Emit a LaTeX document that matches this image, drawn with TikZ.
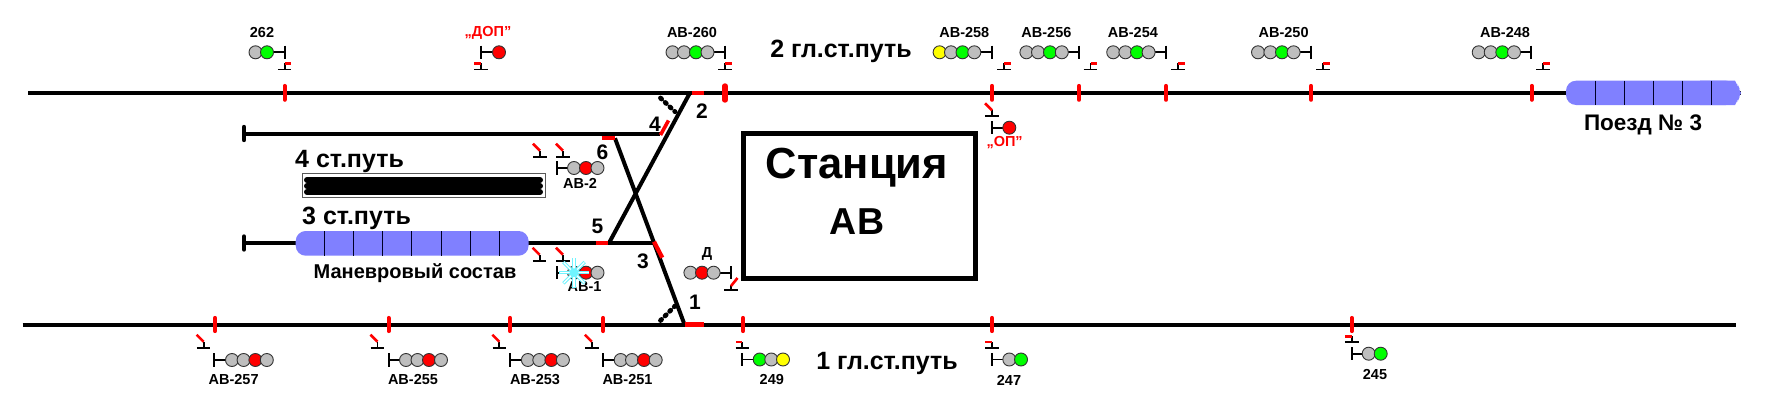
\documentclass[tikz,border=0pt]{standalone}
\usepackage{fontspec}
\setmainfont{Liberation Sans}
\newcommand{\fsz}[1]{\fontsize{#1}{#1}\selectfont\bfseries}
\definecolor{lampgray}{HTML}{BEBEBE}
\definecolor{lampgreen}{HTML}{00FF00}
\definecolor{lampred}{HTML}{FF0000}
\definecolor{lampyellow}{HTML}{FFFF00}
\definecolor{trainblue}{HTML}{8080FF}
\definecolor{flash}{HTML}{70F4FF}
\tikzset{
 track/.style={line width=4pt,black},
 redtick/.style={line width=4.2pt,red,line cap=round},
 lamp/.style={circle,draw=black!80,line width=0.9pt,minimum size=13pt,inner sep=0pt},
 post/.style={line width=1.9pt,black},
 tbar/.style={line width=1.9pt,black},
 trig/.style={line width=2.6pt,red},
 small/.style={font=\fsz{14.5}},
 big/.style={font=\fsz{25}},
 num/.style={font=\fsz{21}},
 train/.style={fill=trainblue,draw=none},
 divider/.style={line width=0.9pt,black!85!blue},
 blobs/.style={line width=4.8pt,line cap=round,dash pattern=on 1.5pt off 5pt},
}
\newcommand{\postline}[3]{\draw[post] (#1,#2-6.7) -- (#1,#2+6.7); \draw[post] (#1,#2) -- (#3,#2);}
\newcommand{\lampat}[4]{\node[lamp,fill=lamp#4] (#1) at (#2,#3) {};}
\newcommand{\tflag}[3]{\draw[tbar] (#1-6.8,#2) -- (#1+6.8,#2); \draw[tbar] (#1,#2) -- (#1,#2-6);
 \draw[trig] (#1,#2-6) -- (#1#36.8,#2-6);}
\newcommand{\tdiag}[2]{\draw[tbar] (#1-6.8,#2) -- (#1+6.8,#2); \draw[tbar] (#1,#2) -- (#1,#2-6);
 \draw[trig] (#1,#2-6) -- (#1-7,#2-13);}
\begin{document}
\begin{tikzpicture}[x=1pt,y=-1pt]
\useasboundingbox (0,0) rectangle (1768,412);
% tracks
\coordinate (t2a) at (28,92.7); \coordinate (t2b) at (1741,92.7);
\coordinate (t1a) at (22.5,324.5); \coordinate (t1b) at (1736,324.5);
\coordinate (t4a) at (244,133.5); \coordinate (t4b) at (660,133.5);
\coordinate (t3a) at (244,243); \coordinate (t3b) at (654,243);
\coordinate (swa) at (690,92.7); \coordinate (swb) at (609,243);
\coordinate (swc) at (615,138.3); \coordinate (swd) at (684.5,324.5);
\draw[track] (t2a) -- (t2b);
\draw[track] (t1a) -- (t1b);
\draw[track] (t4a) -- (t4b);
\draw[track] (t3a) -- (t3b);
\draw[track] (swa) -- (swb);
\draw[track] (swc) -- (swd);
\draw[line width=4.4pt,line cap=round] (t4a)+(0,-6.5) -- +(0,6.5);
\draw[line width=4.4pt,line cap=round] (t3a)+(0,-6.5) -- +(0,6.5);
% red switch sections
\draw[line width=4.2pt,red] (691.5,92.7) -- (703.6,92.7);
\draw[line width=4.2pt,red] (684.5,324.5) -- (703.6,324.5);
\draw[line width=4.2pt,red] (596,243) -- (608,243);
\draw[line width=4.2pt,red] (601.7,138.3) -- (615,138.3);
\draw[line width=3.6pt,red] (668.5,120.5) -- (660.5,135);
\draw[line width=4.2pt,red] (654,241.7) -- (662.3,257.7);
% dotted switch marks
\draw[blobs] (660.5,98) -- (675,111.7);
\draw[blobs] (660.5,320.5) -- (675,306);
% ticks
\foreach \x in {284.6,992,1079,1166,1311,1531.7} \draw[redtick] (\x,86) -- (\x,99.7);
\draw[line width=5.4pt,red,line cap=round] (725,86) -- (725,100);
\foreach \x in {215,388.6,510,603.2,743,992,1351.7} \draw[redtick] (\x,318) -- (\x,331);
% station
\node[draw,line width=5pt,minimum width=232pt,minimum height=145pt,inner sep=0pt] (station) at (859,205.5) {};
\node[font=\fsz{43.5}] (st1) at (857,168) {Станция};
\node[font=\fsz{37.5}] (st2) at (857,222) {АВ};
% track names
\node[big] (n2) at (841,51) {2 гл.ст.путь};
\node[big] (n1) at (887,363) {1 гл.ст.путь};
\node[big,anchor=west,inner sep=0pt] (n4) at (295,161) {4 ст.путь};
\node[big,anchor=west,inner sep=0pt] (n3) at (302,218) {3 ст.путь};
% occupied track 4
\node[draw=black!65,line width=1pt,minimum width=243pt,minimum height=24pt,inner sep=0pt] (occ) at (423.5,185) {};
\foreach \y in {180,186,192} \draw[line width=6pt,line cap=round] (307,\y) -- (540,\y);
% train on track 3
\draw[train,rounded corners=10pt] (295.7,231) rectangle (528.6,255.7);
\foreach \x in {324.3,353.6,382.5,411.8,441,470,499.3} \draw[divider] (\x,231) -- (\x,255.7);
\node[font=\fsz{20}] (man) at (415,273.5) {Маневровый состав};
% train 3
\draw[train,rounded corners=10pt] (1566,80.7) -- (1736,80.7) -- (1741.5,93) -- (1736,105) -- (1566,105) -- cycle;
\fill[trainblue] (1700,80.7) -- (1735,80.7) -- (1741,93) -- (1735,105) -- (1700,105) -- cycle;
\foreach \x in {1595,1624,1653,1682,1711} \draw[divider] (\x,80.7) -- (\x,105);
\node[font=\fsz{22.5}] (poezd) at (1643,124.8) {Поезд № 3};
% numbers
\node[num] (a1) at (695,302) {1};
\node[num] (a2) at (702,111) {2};
\node[num] (a3) at (643,261.7) {3};
\node[num] (a4) at (655,124) {4};
\node[num] (a5) at (597.5,226.7) {5};
\node[num] (a6) at (602.5,152) {6};
% top signals
\postline{284.6}{52.3}{272}
\lampat{s262a}{255.5}{52.3}{gray}\lampat{s262b}{267}{52.3}{green}
\tflag{284.6}{69.5}{+}
\node[small] (l262) at (262,32.5) {262};
\postline{481}{52.3}{494}
\lampat{dop}{499}{52.3}{red}
\tflag{481}{69.5}{-}
\node[small,text=red] (ldop) at (488,32.5) {,,ДОП"};
\postline{725}{52.3}{707}
\lampat{a}{672.5}{52.3}{gray}\lampat{b}{684}{52.3}{gray}\lampat{c}{696}{52.3}{green}\lampat{d}{707.5}{52.3}{gray}
\tflag{725}{69.5}{+}
\node[small] (l260) at (692,32.5) {АВ-260};
\postline{992}{52.3}{974}
\lampat{a}{939.6}{52.3}{yellow}\lampat{b}{951}{52.3}{gray}\lampat{c}{962.5}{52.3}{green}\lampat{d}{974.3}{52.3}{gray}
\tflag{1004}{69.5}{+}
\node[small] (l258) at (964.3,32.5) {АВ-258};
\postline{1079}{52.3}{1061}
\lampat{a}{1026.4}{52.3}{gray}\lampat{b}{1038}{52.3}{gray}\lampat{c}{1050}{52.3}{green}\lampat{d}{1061.8}{52.3}{gray}
\tflag{1090.5}{69.5}{+}
\node[small] (l256) at (1046.4,32.5) {АВ-256};
\postline{1166}{52.3}{1148}
\lampat{a}{1113.2}{52.3}{gray}\lampat{b}{1125.4}{52.3}{gray}\lampat{c}{1137}{52.3}{green}\lampat{d}{1148.6}{52.3}{gray}
\tflag{1178}{69.5}{+}
\node[small] (l254) at (1132.9,32.5) {АВ-254};
\postline{1311}{52.3}{1293}
\lampat{a}{1258}{52.3}{gray}\lampat{b}{1270.4}{52.3}{gray}\lampat{c}{1282}{52.3}{green}\lampat{d}{1293.6}{52.3}{gray}
\tflag{1323}{69.5}{+}
\node[small] (l250) at (1283.6,32.5) {АВ-250};
\postline{1531}{52.3}{1514}
\lampat{a}{1478.7}{52.3}{gray}\lampat{b}{1490.7}{52.3}{gray}\lampat{c}{1502.3}{52.3}{green}\lampat{d}{1514}{52.3}{gray}
\tflag{1543}{69.5}{+}
\node[small] (l248) at (1505,32.5) {АВ-248};
% OP
\tdiag{992}{116.3}
\postline{992}{127.7}{1004}
\lampat{op}{1009.3}{127.7}{red}
\node[small,text=red] (lop) at (1004.6,142.7) {,,ОП"};
% AB-2
\tdiag{540}{156.7}\tdiag{563}{156.7}
\postline{557}{168}{574}
\lampat{a}{574}{168}{gray}\lampat{b}{586}{168}{red}\lampat{c}{597.5}{168}{gray}
\node[small] (lab2) at (580,183) {АВ-2};
% AB-1
\tdiag{539.6}{260.7}\tdiag{563}{260.7}
\postline{557}{272.7}{574}
\lampat{a}{574}{272.7}{gray}\lampat{b}{586}{272.7}{red}\lampat{c}{597.5}{272.7}{gray}
\node[small] (lab1) at (584.6,287) {АВ-1};
\foreach \a in {0,45,90,135} {
 \draw[line width=3.4pt,flash] (574,272.7)+(\a:15) -- +(\a+180:15);
}
\foreach \a in {0,45,90,135} {
 \draw[line width=1.3pt,white] (574,272.7)+(\a:14.5) -- +(\a+180:14.5);
}
\fill[flash] (574,272.7) circle (4.5);
% D
\postline{731.4}{272.7}{713}
\lampat{a}{690.4}{272.7}{gray}\lampat{b}{702}{272.7}{red}\lampat{c}{713.6}{272.7}{gray}
\draw[tbar] (724,290) -- (737.6,290); \draw[tbar] (731,290) -- (731,285);
\draw[trig] (731,286) -- (737.5,278);
\node[small] (ld) at (707,254) {Д};
% bottom signals
\tdiag{203.6}{347.7}
\postline{214.3}{360}{232}
\lampat{a}{232}{360}{gray}\lampat{b}{243.6}{360}{gray}\lampat{c}{255.4}{360}{red}\lampat{d}{266.8}{360}{gray}
\node[small] (l257) at (233.6,380) {АВ-257};
\tdiag{377.5}{347.7}
\postline{388.6}{360}{406}
\lampat{a}{406}{360}{gray}\lampat{b}{417.5}{360}{gray}\lampat{c}{429}{360}{red}\lampat{d}{441}{360}{gray}
\node[small] (l255) at (413,380) {АВ-255};
\tdiag{499.3}{347.7}
\postline{510}{360}{528}
\lampat{a}{527.9}{360}{gray}\lampat{b}{539.3}{360}{gray}\lampat{c}{551.4}{360}{red}\lampat{d}{562.9}{360}{gray}
\node[small] (l253) at (535,380) {АВ-253};
\tdiag{591.8}{347.7}
\postline{603}{360}{620}
\lampat{a}{620.7}{360}{gray}\lampat{b}{632}{360}{gray}\lampat{c}{644}{360}{red}\lampat{d}{655.7}{360}{gray}
\node[small] (l251) at (627.5,380) {АВ-251};
\tflag{742.3}{348}{-}
\postline{742.3}{359.5}{759}
\lampat{a}{759.7}{359.5}{green}\lampat{b}{771.3}{359.5}{gray}\lampat{c}{783}{359.5}{yellow}
\node[small] (l249) at (771.8,380) {249};
\tflag{992}{348}{-}
\postline{992}{359.5}{1009}
\lampat{a}{1009.3}{359.5}{gray}\lampat{b}{1021}{359.5}{green}
\node[small] (l247) at (1009,380) {247};
\tflag{1351.7}{342.3}{-}
\postline{1351.7}{353.7}{1368}
\lampat{a}{1368.7}{353.7}{gray}\lampat{b}{1380.7}{353.7}{green}
\node[small] (l245) at (1375,374.3) {245};
\end{tikzpicture}
\end{document}
